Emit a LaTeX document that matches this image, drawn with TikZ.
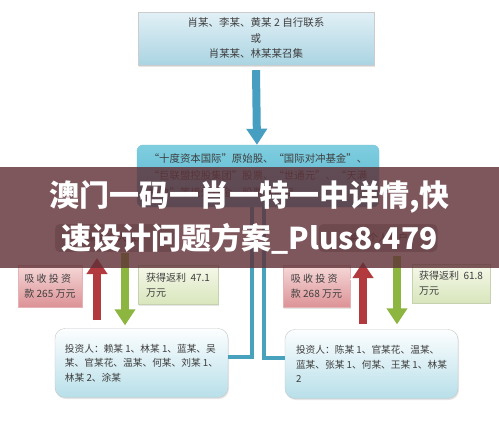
\documentclass[tikz,border=0pt]{standalone}
\usepackage{fontspec}
\setmainfont{Noto Sans CJK SC}
\usetikzlibrary{arrows.meta, shadows, calc}

\definecolor{boxtext}{RGB}{62,62,62}
\definecolor{skyA}{RGB}{226,240,246}
\definecolor{skyB}{RGB}{170,212,226}
\definecolor{tealA}{RGB}{128,206,224}
\definecolor{tealB}{RGB}{82,178,204}
\definecolor{pinkA}{RGB}{246,216,216}
\definecolor{pinkB}{RGB}{220,146,150}
\definecolor{limeA}{RGB}{246,248,234}
\definecolor{limeB}{RGB}{216,230,188}
\definecolor{iceA}{RGB}{252,254,255}
\definecolor{iceB}{RGB}{184,223,233}
\definecolor{pipeblue}{RGB}{72,162,190}
\definecolor{arrowblue}{RGB}{70,158,192}
\definecolor{arrowred}{RGB}{178,58,62}
\definecolor{arrowgreen}{RGB}{140,182,64}
\definecolor{bannerfill}{RGB}{95,49,55}

\tikzset{
  headbox/.style={
    rectangle, minimum width=236pt, minimum height=53pt,
    align=center, font=\fontsize{10.5}{15.5}\selectfont, text=boxtext,
    top color=skyA, bottom color=skyB, draw=gray!40,
    drop shadow={opacity=0.2, shadow xshift=1pt, shadow yshift=-1.5pt}
  },
  poolbox/.style={
    rectangle, rounded corners=6pt,
    minimum width=242pt, minimum height=62pt,
    align=left, font=\fontsize{10.4}{17}\selectfont, text=boxtext,
    top color=tealA, bottom color=tealB, draw=tealB!80!white
  },
  relaybox/.style={
    rectangle, rounded corners=5pt,
    minimum width=#1, minimum height=29pt,
    font=\fontsize{10}{14}\selectfont, text=boxtext,
    fill=gray!60, draw=white, line width=1pt
  },
  moneybox/.style={
    rectangle, minimum width=#1, minimum height=42pt,
    align=left, font=\fontsize{10}{15}\selectfont, text=boxtext,
    drop shadow={opacity=0.2, shadow xshift=1pt, shadow yshift=-1pt}
  },
  inbox/.style={moneybox=#1, top color=pinkA, bottom color=pinkB, draw=pinkB!70!white},
  outbox/.style={moneybox=#1, minimum height=39pt, top color=limeA, bottom color=limeB, draw=limeB!80!gray},
  peoplebox/.style={
    rectangle, rounded corners=10pt,
    minimum width=173pt, minimum height=69pt,
    align=left, font=\fontsize{9.7}{14.5}\selectfont, text=boxtext,
    top color=iceA, bottom color=iceB, draw=gray!45,
    drop shadow={opacity=0.2, shadow xshift=1pt, shadow yshift=-1.5pt}
  },
  blockarrow/.style={
    draw=#1, line width=8pt, -{Triangle[length=16pt, width=20pt]},
    preaction={draw=white, line width=10.5pt, -{Triangle[length=18pt, width=25pt]}}
  },
  pipe/.style={draw=pipeblue, line width=4.5pt},
  banner/.style={
    rectangle, minimum width=499pt, minimum height=101pt, inner sep=0pt,
    fill=bannerfill, fill opacity=0.81, text opacity=1, text=white,
    align=center, font=\fontsize{30}{43}\selectfont\bfseries
  },
}

\begin{document}
\begin{tikzpicture}[x=1pt, y=-1pt]
  \fill[white] (0,0) rectangle (499,437);
  \useasboundingbox (0,0) rectangle (499,437);

  % boxes
  \node[headbox] (head) at (256,38.5) {肖某、李某、黄某 2 自行联系\\或\\肖某某、林某某召集};
  \node[poolbox] (pool) at (258,176) {“十度资本国际”原始股、“国际对冲基金”、\\“巨联盟控股集团”股票、“世通元”、“天满\\指数”等境外基金、股票等项目};
  \node[relaybox=125pt] (relayL) at (117,238) {某某个人账户};
  \node[relaybox=120pt] (relayR) at (378,238) {某某个人账户};
  \node[inbox=64pt]  (inL)  at (50,286)    {吸 收 投 资\\款 265 万元};
  \node[outbox=80pt] (outL) at (178,285)   {获得返利\ \ 47.1\\万元};
  \node[inbox=67pt]  (inR)  at (316.5,286.5) {吸 收 投 资\\款 268 万元};
  \node[outbox=78pt] (outR) at (451,283.5) {获得返利\ \ 61.8\\万元};
  \node[peoplebox] (peopleL) at (141.5,363) {投资人：赖某 1、林某 1、蓝某、吴\\某、官某花、温某、何某、刘某 1、\\林某 2、涂某};
  \node[peoplebox] (peopleR) at (371.5,364) {投资人：陈某 1、官某花、温某、\\蓝某、张某 1、何某、王某 1、林某\\2};

  % arrows
  \draw[blockarrow=arrowblue] ([yshift=-5pt]head.south) -- ([xshift=-1pt]pool.north);
  \draw[blockarrow=arrowred]   ([shift={(-44.5pt,8pt)}]peopleL.north) -- ([shift={(-20pt,-5pt)}]relayL.south);
  \draw[blockarrow=arrowgreen] ([xshift=8pt]relayL.south) -- ([shift={(-16.5pt,3pt)}]peopleL.north);
  \draw[blockarrow=arrowred]   ([shift={(-8.5pt,5pt)}]peopleR.north) -- ([shift={(-15pt,-9pt)}]relayR.south);
  \draw[blockarrow=arrowgreen] ([shift={(19pt,-3pt)}]relayR.south) -- ([shift={(25.5pt,5pt)}]peopleR.north);

  % pipes
  \draw[pipe] ([xshift=-6pt]pool.south) |- ([yshift=6pt]peopleL.east);
  \draw[pipe] ([xshift=6pt]pool.south) |- ([yshift=6pt]peopleR.west);

  \node[banner] (stamp) at (249.5,217.5) {澳门一码一肖一特一中详情,快\\速设计问题方案\_Plus8.479};
\end{tikzpicture}
\end{document}
